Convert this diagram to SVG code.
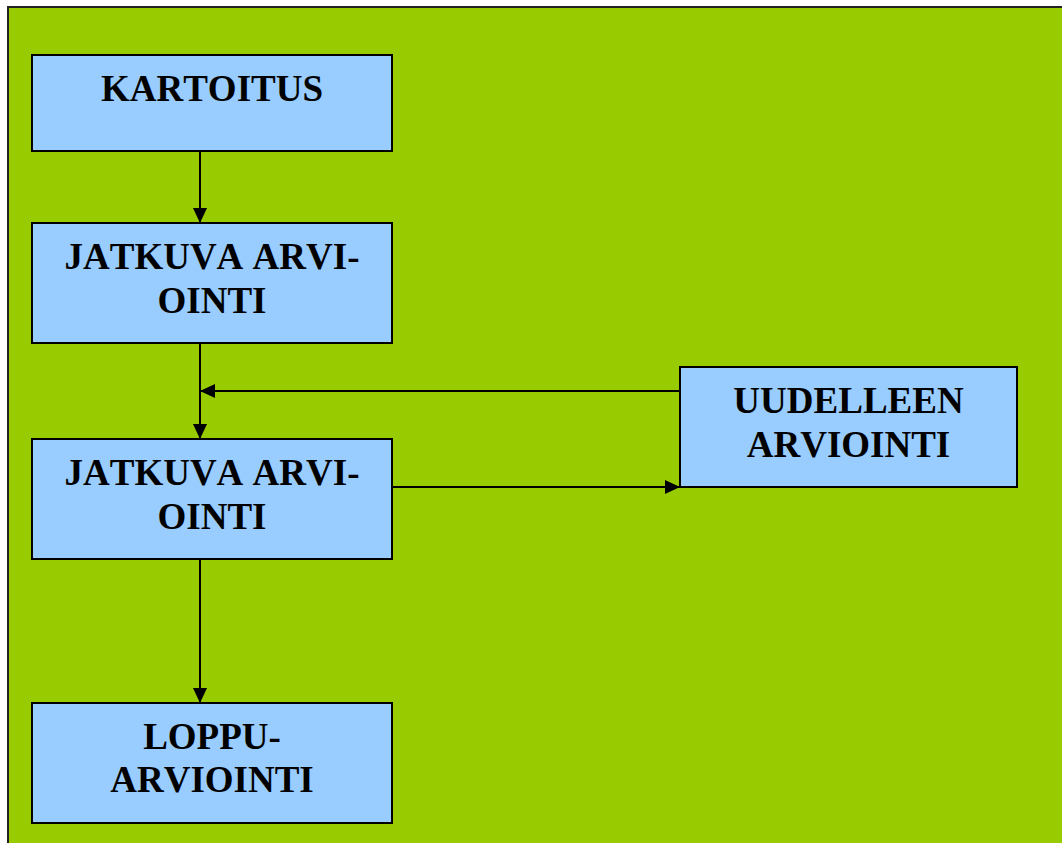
<svg xmlns="http://www.w3.org/2000/svg" width="1062" height="843" viewBox="0 0 1062 843">
<defs>
<style>
.box{fill:#99ccff;stroke:#000;stroke-width:2}
.t{font-family:"Liberation Serif","Times New Roman",serif;font-weight:bold;font-size:37px;text-anchor:middle;fill:#000;font-kerning:none}
.c{stroke:#000;stroke-width:2;fill:none;marker-end:url(#ah)}
</style>
<marker id="ah" viewBox="0 0 15 14" refX="15" refY="7" markerWidth="15" markerHeight="14" markerUnits="userSpaceOnUse" orient="auto">
<path d="M0,0 L15,7 L0,14 Z" fill="#000"/>
</marker>
</defs>
<rect x="0" y="0" width="1062" height="843" fill="#ffffff"/>
<rect id="background" x="8" y="7" width="1060" height="842" fill="#99cc00" stroke="#222" stroke-width="2"/>
<g id="connectors">
<line class="c" x1="200" y1="151" x2="200" y2="223"/>
<line class="c" x1="200" y1="343" x2="200" y2="439"/>
<line class="c" x1="680" y1="391" x2="200" y2="391"/>
<line class="c" x1="392" y1="487" x2="680" y2="487"/>
<line class="c" x1="200" y1="559" x2="200" y2="703"/>
</g>
<g id="kartoitus">
<rect class="box" x="32" y="55" width="360" height="96"/>
<text class="t" x="212" y="101">KARTOITUS</text>
</g>
<g id="jatkuva1">
<rect class="box" x="32" y="223" width="360" height="120"/>
<text class="t" x="212" y="269">JATKUVA ARVI-</text>
<text class="t" x="212" y="313">OINTI</text>
</g>
<g id="jatkuva2">
<rect class="box" x="32" y="439" width="360" height="120"/>
<text class="t" x="212" y="485">JATKUVA ARVI-</text>
<text class="t" x="212" y="529">OINTI</text>
</g>
<g id="uudelleen">
<rect class="box" x="680" y="367" width="337" height="120"/>
<text class="t" x="848.5" y="413">UUDELLEEN</text>
<text class="t" x="848.5" y="457">ARVIOINTI</text>
</g>
<g id="loppu">
<rect class="box" x="32" y="703" width="360" height="120"/>
<text class="t" x="212" y="749">LOPPU-</text>
<text class="t" x="212" y="792">ARVIOINTI</text>
</g>
</svg>
